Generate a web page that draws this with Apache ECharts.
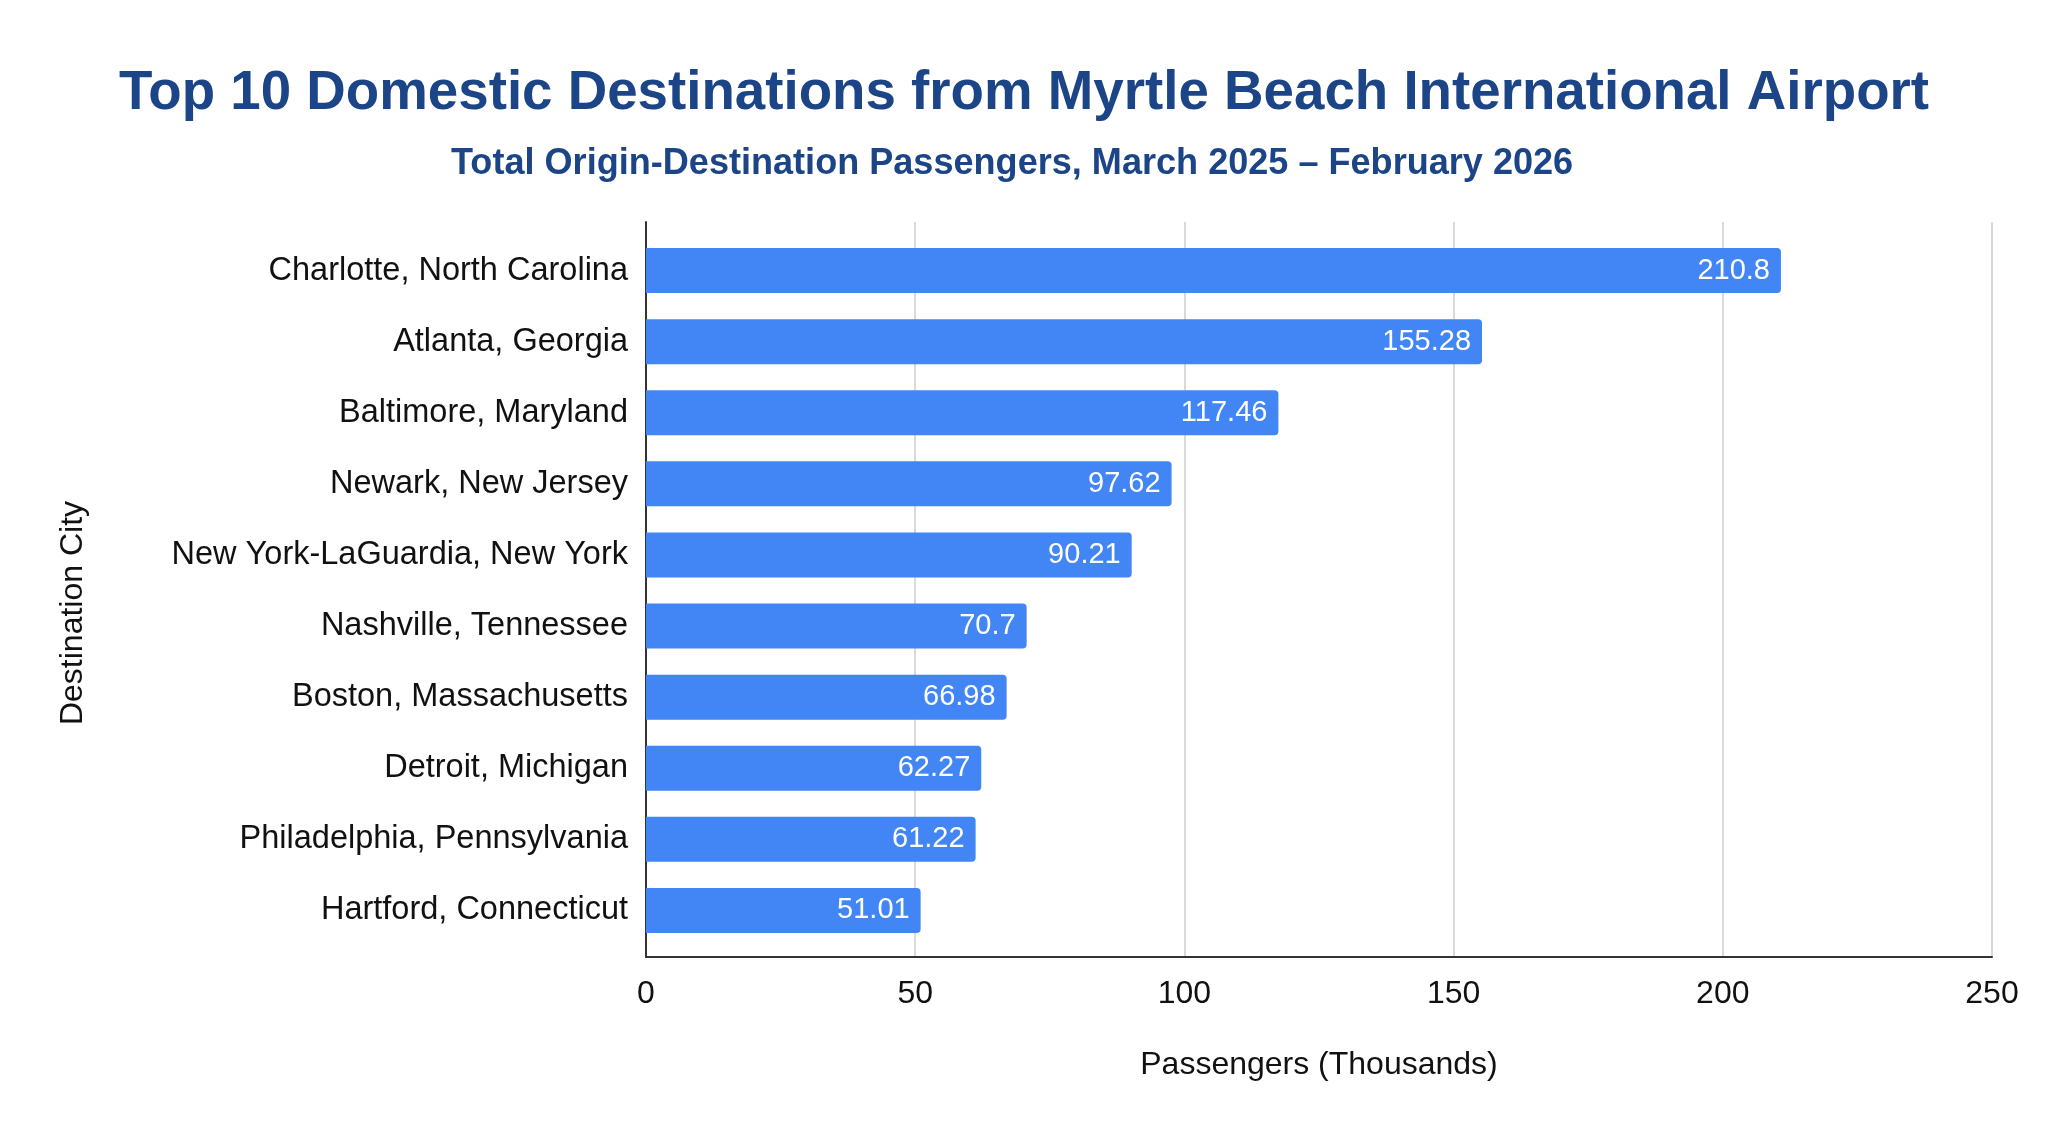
<!DOCTYPE html>
<html>
<head>
<meta charset="utf-8">
<style type="text/css">
html, body { margin: 0; padding: 0; background: #fff; }
#chart { width: 2048px; height: 1124px; }
</style>
<script type="text/javascript" src="https://cdn.jsdelivr.net/npm/echarts@6.0.0/dist/echarts.min.js"></script>
</head>
<body>
<div id="chart"></div>
<script type="text/javascript">
var cities = [
	'Charlotte, North Carolina',
	'Atlanta, Georgia',
	'Baltimore, Maryland',
	'Newark, New Jersey',
	'New York-LaGuardia, New York',
	'Nashville, Tennessee',
	'Boston, Massachusetts',
	'Detroit, Michigan',
	'Philadelphia, Pennsylvania',
	'Hartford, Connecticut'
];
var passengers = [210.8, 155.28, 117.46, 97.62, 90.21, 70.7, 66.98, 62.27, 61.22, 51.01];
var xMin = 0, xMax = 250, xStep = 50;

var titleText = 'Top 10 Domestic Destinations from Myrtle Beach International Airport';
var subText = 'Total Origin-Destination Passengers, March 2025 \u2013 February 2026';
var xName = 'Passengers (Thousands)';
var yName = 'Destination City';

var font = 'Liberation Sans, Arial, sans-serif';
var chart = echarts.init(document.getElementById('chart'));

chart.setOption({
	backgroundColor: '#fff',
	textStyle: { fontFamily: font },
	title: [{
		text: titleText,
		left: 'center',
		top: 61,
		textStyle: { color: '#1c4587', fontSize: 54.7, fontWeight: 'bold', fontFamily: font }
	}, {
		text: subText,
		left: 446,
		top: 141,
		textStyle: { color: '#1c4587', fontSize: 36.1, fontWeight: 'bold', fontFamily: font }
	}],
	// grid 0: frame with gridlines, grid 1: the bars (a bit inset top/bottom)
	grid: [
		{ left: 646, right: 56, top: 222, bottom: 167, containLabel: false },
		{ left: 646, right: 56, top: 235, bottom: 178, containLabel: false }
	],
	xAxis: [{
		gridIndex: 0,
		type: 'value',
		min: xMin, max: xMax, interval: xStep,
		name: xName,
		nameLocation: 'middle',
		nameGap: 92,
		nameTextStyle: { color: '#111', fontSize: 32, fontFamily: font },
		axisLine: { show: true, lineStyle: { color: '#333', width: 2 } },
		axisTick: { show: false },
		axisLabel: { color: '#111', fontSize: 32, margin: 21, fontFamily: font },
		splitLine: { show: true, lineStyle: { color: '#cccccc', width: 1.5 } }
	}, {
		gridIndex: 1,
		type: 'value',
		min: xMin, max: xMax,
		show: false
	}],
	yAxis: [{
		gridIndex: 0,
		type: 'value',
		min: 0, max: 1,
		axisLine: { show: true, lineStyle: { color: '#333', width: 2 } },
		axisTick: { show: false },
		axisLabel: { show: false },
		splitLine: { show: false }
	}, {
		gridIndex: 1,
		type: 'category',
		inverse: true,
		data: cities,
		axisLine: { show: false },
		axisTick: { show: false },
		axisLabel: { color: '#111', fontSize: 32.5, margin: 18, fontFamily: font },
		splitLine: { show: false }
	}],
	graphic: [{
		type: 'text',
		x: 73,
		y: 613,
		rotation: Math.PI / 2,
		style: {
			text: yName,
			fill: '#111',
			font: '32px ' + font,
			align: 'center',
			verticalAlign: 'middle'
		}
	}],
	series: [{
		type: 'bar',
		xAxisIndex: 1,
		yAxisIndex: 1,
		data: passengers,
		barWidth: 45,
		itemStyle: { color: '#4285f4', borderRadius: [0, 4, 4, 0] },
		label: {
			show: true,
			position: 'insideRight',
			distance: 11,
			color: '#fff',
			fontSize: 29,
			fontFamily: font
		},
		silent: true
	}],
	animation: false
});
</script>
</body>
</html>
